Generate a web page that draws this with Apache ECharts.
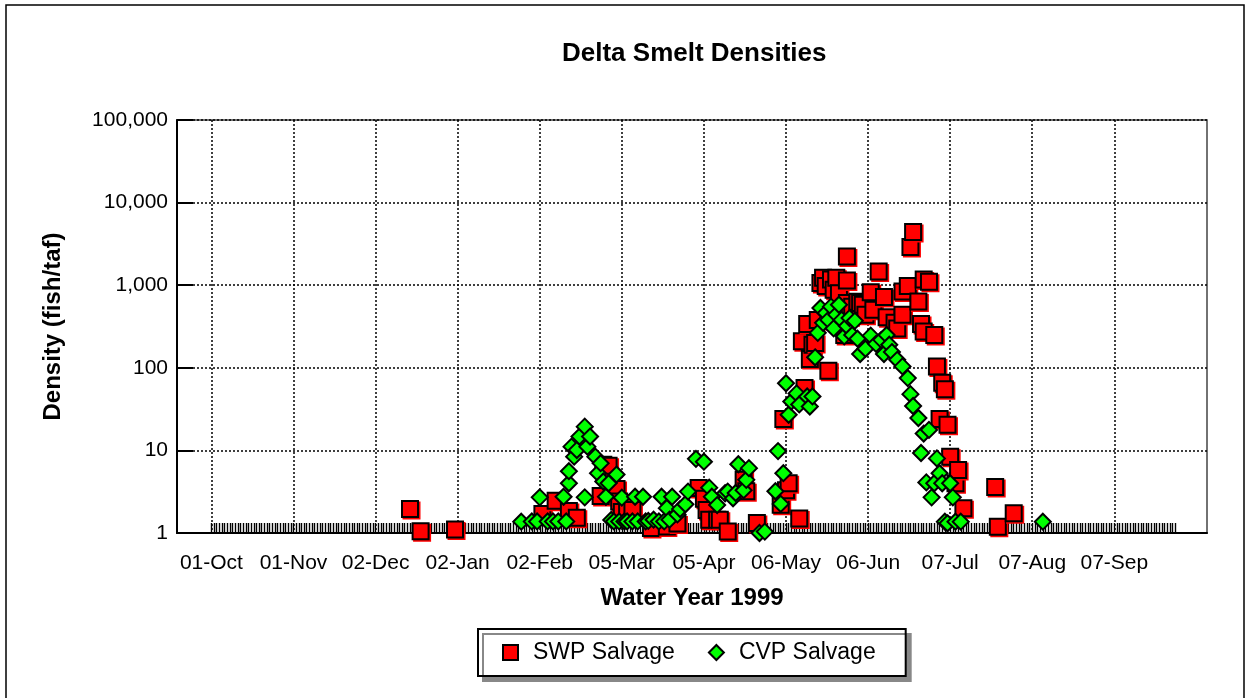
<!DOCTYPE html>
<html>
<head>
    <meta charset="utf-8">
    <script src="https://cdn.jsdelivr.net/npm/echarts@6.0.0/dist/echarts.min.js"></script>
    <style>
        html, body { margin: 0; padding: 0; background: #fff; }
        #chart { width: 1250px; height: 698px; }
    </style>
</head>
<body>
<div id="chart"></div>
<script>
    // x = days since 01-Oct-1998, y = density (fish/taf)
    const swp = [
        [75, 1.95], [79, 1.05], [92, 1.1], [125, 1.7], [130, 2.45], [135, 1.85], [138, 1.53],
        [147, 2.8], [148, 6.7], [150, 6.5], [152, 3.3], [153, 3.4], [154, 2.4], [155, 1.8],
        [157, 1.9], [159, 1.9], [166, 1.15], [172, 1.2], [176, 1.3], [184, 3.5], [186, 2.6],
        [187, 1.9], [188, 1.45], [191, 1.45], [192, 1.45], [195, 1.04], [201, 4.4], [202, 3.2],
        [206, 1.32], [215, 2.2], [216, 24], [217, 3.3], [218, 4.0], [222, 1.5], [223, 210],
        [224, 57], [225, 340], [226, 128], [227, 190], [228, 200], [229, 380], [230, 1060],
        [231, 1230], [232, 980], [233, 92], [234, 1170], [235, 420], [235, 880], [236, 1230],
        [237, 350], [237, 800], [239, 250], [240, 2230], [240, 1140], [240, 610], [241, 420],
        [242, 550], [244, 580], [244, 630], [245, 610], [246, 580], [247, 440], [249, 820],
        [250, 505], [252, 1470], [254, 720], [255, 410], [258, 350], [259, 300], [261, 840],
        [261, 440], [263, 980], [264, 2900], [265, 4400], [267, 635], [268, 340], [269, 275],
        [269, 1170], [271, 1100], [273, 250], [274, 104], [275, 24], [276, 66], [277, 55],
        [278, 20.5], [279, 8.4], [281, 4.0], [282, 5.8], [284, 2.0], [296, 3.6], [297, 1.19],
        [303, 1.73]
    ]
    const cvp = [
        [117, 1.37], [121, 1.38], [123, 1.38], [124, 2.7], [127, 1.38], [129, 1.38], [131, 1.38],
        [133, 2.75], [134, 1.38], [135, 4.0], [135, 5.6], [136, 11.1], [137, 8.4], [138, 10.1],
        [139, 14.7], [141, 19.4], [141, 2.7], [142, 11.1], [143, 14.7], [145, 8.4], [146, 5.3],
        [147, 7.0], [148, 4.2], [149, 2.75], [150, 4.0], [151, 1.44], [152, 1.38], [153, 5.1],
        [154, 1.38], [155, 2.68], [156, 1.38], [157, 1.38], [159, 1.38], [160, 2.75], [161, 1.38],
        [163, 2.75], [164, 1.38], [165, 1.4], [167, 1.45], [169, 1.38], [170, 2.75], [171, 1.38],
        [172, 2.0], [173, 1.45], [174, 2.75], [176, 1.68], [177, 1.95], [179, 2.23], [180, 3.17],
        [183, 7.9], [186, 7.3], [188, 3.54], [189, 2.75], [191, 2.18], [194, 3.03], [195, 3.17],
        [197, 2.63], [198, 3.05], [199, 6.8], [201, 3.3], [202, 4.4], [203, 6.1], [207, 1.0],
        [209, 1.04], [213, 3.2], [214, 9.8], [215, 2.25], [216, 5.3], [217, 65], [218, 27],
        [219, 39], [221, 49], [222, 36], [225, 45], [226, 34], [227, 45], [228, 134], [229, 265],
        [230, 530], [231, 350], [232, 460], [233, 380], [234, 550], [235, 300], [236, 440],
        [237, 580], [238, 380], [239, 240], [240, 320], [241, 400], [242, 250], [243, 370],
        [244, 225], [245, 147], [247, 170], [249, 245], [251, 195], [253, 218], [254, 147],
        [255, 250], [256, 190], [257, 155], [259, 125], [261, 104], [263, 75], [264, 48],
        [265, 34.5], [267, 24.7], [268, 9.3], [269, 16], [270, 4.1], [271, 17.7], [272, 2.7],
        [273, 4.0], [274, 8.0], [275, 5.3], [276, 4.0], [277, 1.37], [278, 1.31], [279, 4.0],
        [280, 2.7], [281, 1.37], [283, 1.37], [314, 1.37]
    ]
    const tickDays = [0, 31, 62, 93, 124, 155, 186, 217, 248, 279, 310, 341]
    const tickLabels = ['01-Oct', '01-Nov', '02-Dec', '02-Jan', '02-Feb', '05-Mar',
        '05-Apr', '06-May', '06-Jun', '07-Jul', '07-Aug', '07-Sep']
    const yTickLabels = ['1', '10', '100', '1,000', '10,000', '100,000']

    // one small tick per day of the water year
    const dayTicks = []
    for (let d = 0; d <= 364; d++) dayTicks.push(d)

    const font = "'Liberation Sans', Arial, sans-serif"
    const dotted = { color: '#000', width: 1.5, type: [2, 2] }

    const chart = echarts.init(document.getElementById('chart'))
    const option = {
        backgroundColor: '#fff',
        animation: false,
        textStyle: { fontFamily: font },
        title: {
            text: 'Delta Smelt Densities',
            left: 557,
            top: 36,
            textStyle: { fontFamily: font, fontSize: 26, fontWeight: 'bold', color: '#000' }
        },
        graphic: [{
            type: 'rect',
            shape: { x: 6, y: 5, width: 1238, height: 720 },
            style: { fill: null, stroke: '#000', lineWidth: 1.5 },
            silent: true
        }],
        grid: {
            left: 177, top: 120, width: 1030, height: 413,
            show: true, borderColor: '#444', borderWidth: 1.5
        },
        legend: {
            left: 478, top: 629,
            padding: [12, 30, 12, 24],
            itemGap: 33,
            itemWidth: 15, itemHeight: 15,
            backgroundColor: '#fff',
            borderColor: '#000', borderWidth: 2,
            shadowColor: '#888', shadowBlur: 0, shadowOffsetX: 5, shadowOffsetY: 5,
            textStyle: { fontFamily: font, fontSize: 23, color: '#000', padding: [0, 0, 0, 10] },
            data: [
                { name: 'SWP Salvage', icon: 'rect' },
                { name: 'CVP Salvage', icon: 'diamond' }
            ]
        },
        xAxis: [{
            type: 'value',
            min: -13, max: 376,
            name: 'Water Year 1999',
            nameLocation: 'middle',
            nameGap: 53,
            nameTextStyle: { fontFamily: font, fontSize: 24, fontWeight: 'bold', color: '#000' },
            axisLine: { onZero: false, lineStyle: { color: '#000', width: 2 } },
            axisTick: { show: false, customValues: tickDays },
            axisLabel: {
                customValues: tickDays,
                margin: 20,
                fontFamily: font, fontSize: 21, color: '#000',
                formatter: v => tickLabels[tickDays.indexOf(v)] || ''
            },
            splitLine: { show: true, customValues: tickDays, lineStyle: dotted }
        }, {
            type: 'value',
            min: -13, max: 376,
            position: 'bottom',
            axisLine: { show: false, onZero: false },
            axisLabel: { show: false },
            splitLine: { show: false },
            axisTick: {
                show: true, inside: true, length: 10,
                customValues: dayTicks,
                lineStyle: { color: '#000', width: 1.4 }
            }
        }],
        yAxis: {
            type: 'log',
            logBase: 10,
            min: 1, max: 100000,
            name: 'Density (fish/taf)',
            nameLocation: 'middle',
            nameGap: 112,
            nameTextStyle: { fontFamily: font, fontSize: 24, fontWeight: 'bold', color: '#000' },
            axisLine: { show: true, onZero: false, lineStyle: { color: '#000', width: 2 } },
            axisTick: { show: true, inside: true, length: 16, lineStyle: { color: '#000', width: 2 } },
            axisLabel: {
                margin: 9,
                fontFamily: font, fontSize: 21, color: '#000',
                formatter: v => yTickLabels[Math.round(Math.log10(v))]
            },
            splitLine: { show: true, lineStyle: dotted }
        },
        series: [{
            name: 'SWP Salvage',
            type: 'scatter',
            symbol: 'rect',
            symbolSize: 16,
            data: swp,
            itemStyle: {
                color: '#ff0000', borderColor: '#000', borderWidth: 2,
                shadowColor: '#ff0000', shadowBlur: 0, shadowOffsetX: 1.5, shadowOffsetY: 1.5,
                opacity: 1
            }
        }, {
            name: 'CVP Salvage',
            type: 'scatter',
            symbol: 'diamond',
            symbolSize: 16,
            data: cvp,
            itemStyle: { color: '#00ff00', borderColor: '#000', borderWidth: 2, opacity: 1 }
        }]
    }
    chart.setOption(option)
</script>
</body>
</html>
